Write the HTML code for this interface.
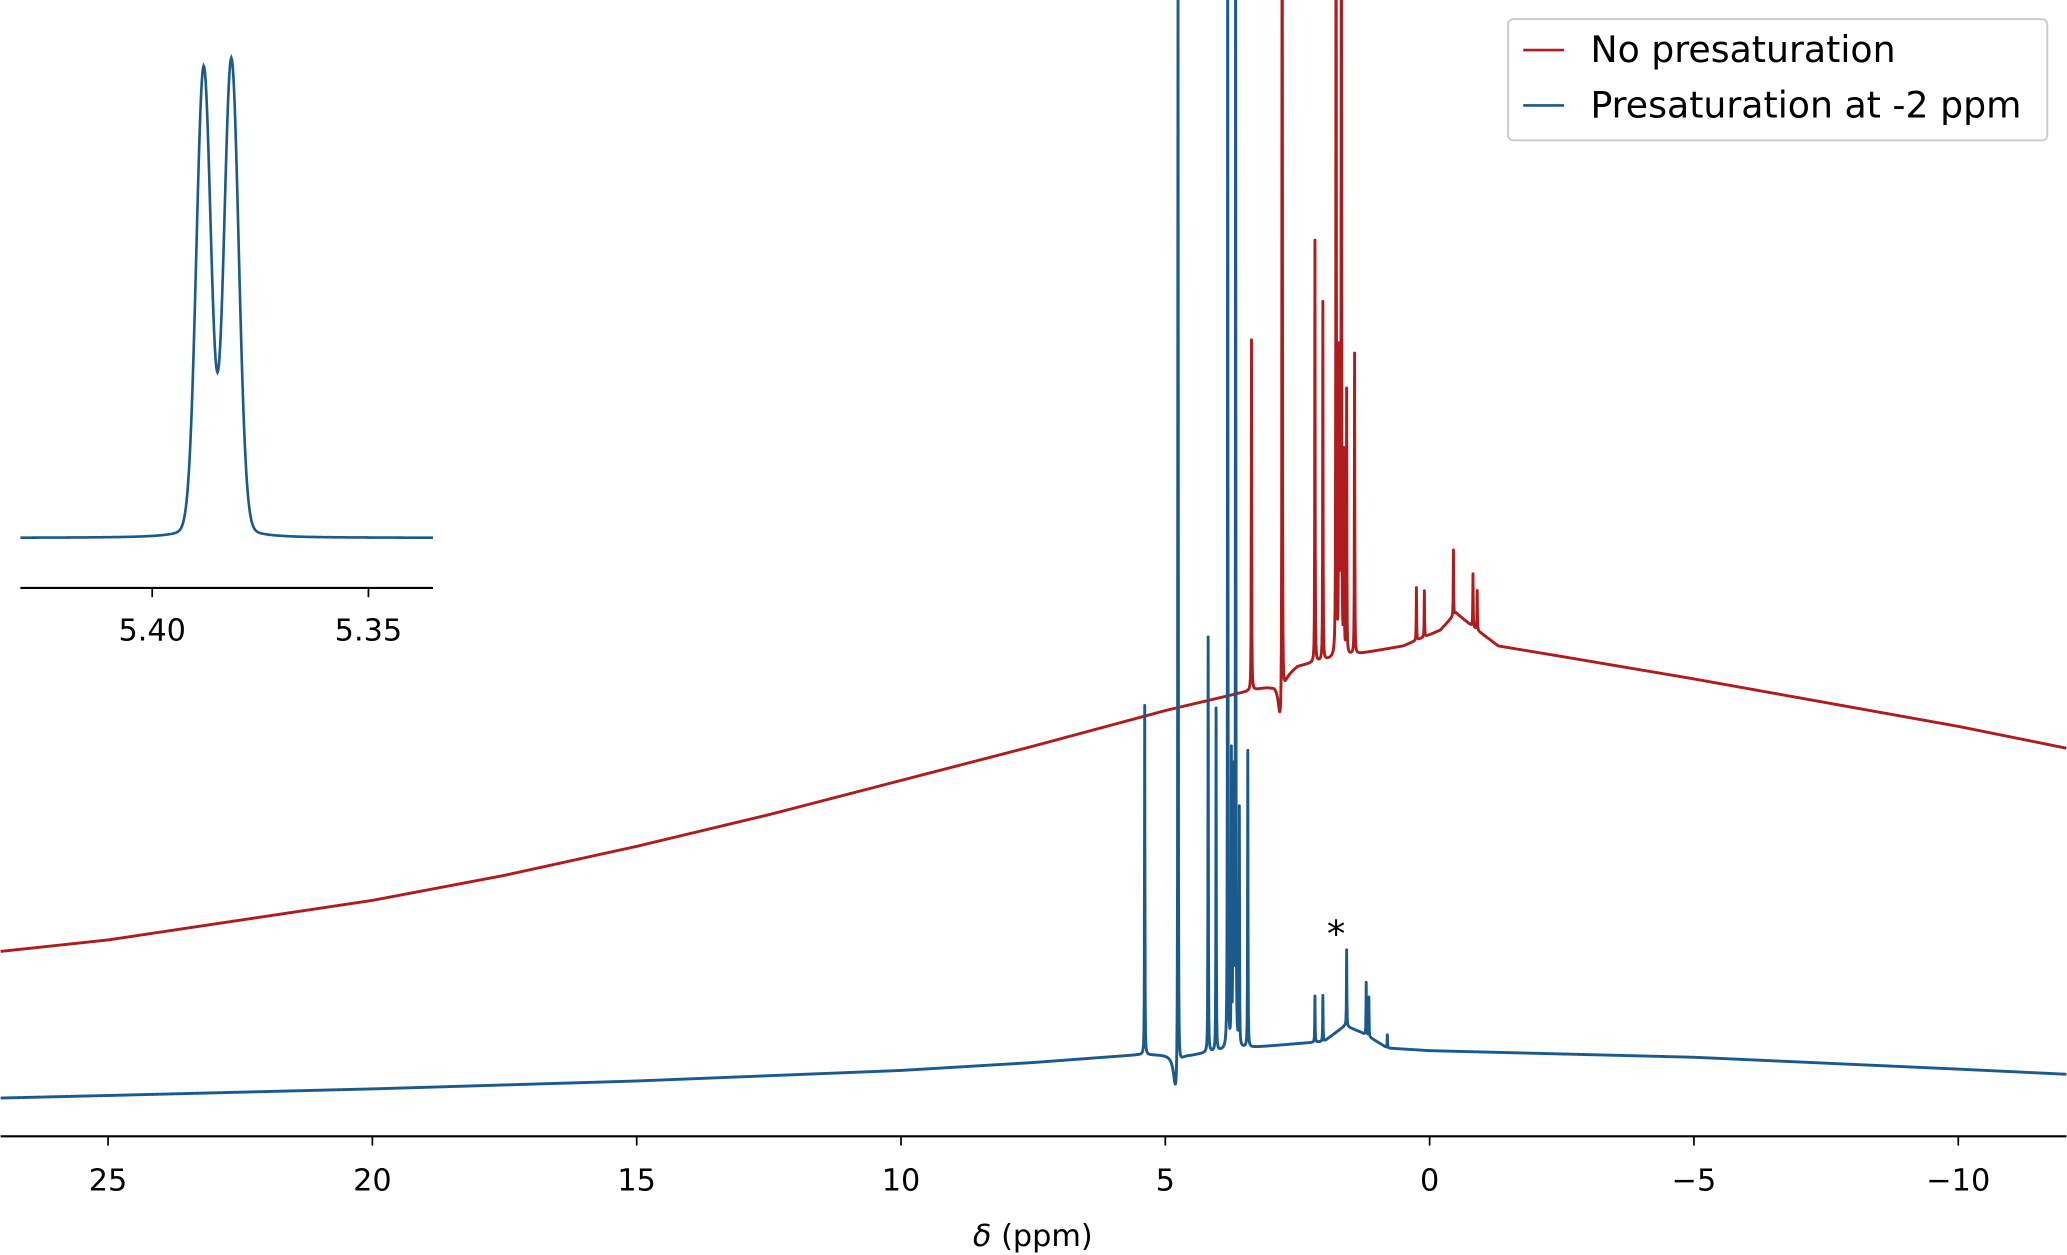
<!DOCTYPE html>
<html><head><meta charset="utf-8"><style>
html,body{margin:0;padding:0;background:#fff}
svg{display:block}
text{font-family:"DejaVu Sans","Liberation Sans",sans-serif;fill:#000}
</style></head><body>
<svg id="chart" width="2067" height="1255" viewBox="0 0 1567 952" xmlns="http://www.w3.org/2000/svg">
<g id="main"></g>
<g id="inset"></g>
<g>
<rect x="1143.5" y="14.5" width="409" height="92" rx="4" fill="#fff" stroke="#ccc" stroke-width="1.5"/>
<line x1="1155" y1="38" x2="1186" y2="38" stroke="#b01c1c" stroke-width="2"/>
<text x="1206" y="47" font-size="27.5">No presaturation</text>
<line x1="1155" y1="80" x2="1186" y2="80" stroke="#1a5a8c" stroke-width="2"/>
<text x="1206" y="89" font-size="27.5">Presaturation at -2 ppm</text>
</g>
<text x="1013" y="718" font-size="28" text-anchor="middle">*</text>
<text x="783" y="945" font-size="23" text-anchor="middle"><tspan font-style="italic">δ</tspan> (ppm)</text>
</svg>
<script>
const xTicks=[25,20,15,10,5,0,-5,-10];
const xTickLabels=["25","20","15","10","5","0","\u22125","\u221210"];
const redBaseP=[27.1,25,20,17.5,15,12.5,10,7.5,5,3,2.5,1.5,0.5,-0.2,-0.5,-0.9,-1.3,-2.5,-5,-7.5,-10,-12.1];
const redBaseY=[722,713,683,664,642,618,592,566,539,520,505,497,490,478,465,478,490,498,515,533,551,568];
const redPeakP=[3.37,2.79,2.82,2.17,2.02,1.77,1.67,1.72,1.7,1.62,1.57,1.42,0.25,0.1,-0.45,-0.82,-0.9];
const redPeakH=[266,900,-35,320,272,900,900,220,180,150,200,228,40,35,50,40,30];
const bluBaseP=[27.1,25,20,15,10,7.5,5.5,5,4.5,3.5,2,1.6,1.3,1,0.8,0,-5,-10,-12.1];
const bluBaseY=[833,831,826,820,812,806,800,800,800,795,790,778,783,790,795,797,802,811,815];
const bluPeakP=[5.39,4.76,4.8,4.19,4.04,3.82,3.67,3.75,3.72,3.7,3.6,3.44,2.17,2.02,1.57,1.2,1.15,0.8];
const bluPeakH=[265,1000,-30,315,260,1000,1000,220,200,160,180,225,35,35,58,40,30,10];
const insetTicks=[5.40,5.35];
const insetTickLabels=["5.40","5.35"];
const insetPeakP=[5.3881,5.3817];
const insetPeakH=[345,351];

const NS="http://www.w3.org/2000/svg";
function X(p){return 1084-40.1*p;}
function interp(ps,ys,p){if(p>=ps[0])return ys[0];for(let i=0;i<ps.length-1;i++){if(p<=ps[i]&&p>=ps[i+1]){const t=(ps[i]-p)/(ps[i]-ps[i+1]);return ys[i]+t*(ys[i+1]-ys[i]);}}return ys[ys.length-1];}
function mk(tag,attrs,parent){const e=document.createElementNS(NS,tag);for(const k in attrs)e.setAttribute(k,attrs[k]);parent.appendChild(e);return e;}
const main=document.getElementById('main');
function spectrum(bp,by,pp,ph,color,name){
  let ps=[];for(let x=0;x<=1567;x+=0.25)ps.push((1084-x)/40.1);
  pp.forEach(p=>{ps.push(p,p+0.003,p-0.003);});ps.sort((a,b)=>b-a);
  let d="";
  ps.forEach((p,i)=>{let y=interp(bp,by,p);pp.forEach((c,j)=>{const w=ph[j]<0?0.05:0.004;y-=ph[j]/(1+((p-c)/w)**2);});y=Math.max(y,-5);d+=(i?"L":"M")+X(p).toFixed(2)+" "+y.toFixed(2);});
  const el=mk('path',{d:d,fill:"none",stroke:color,"stroke-width":2.2,"stroke-linejoin":"round"},main);
  
  
}
spectrum(redBaseP,redBaseY,redPeakP,redPeakH,"#b01c1c","no-presaturation-line");
spectrum(bluBaseP,bluBaseY,bluPeakP,bluPeakH,"#1a5a8c","presaturation-line");
const ax=mk('line',{x1:0,y1:862,x2:1567,y2:862,stroke:"#000","stroke-width":1.6},main);


xTicks.forEach((t,i)=>{
  const tk=mk('line',{x1:X(t),y1:862,x2:X(t),y2:869,stroke:"#000","stroke-width":1.3},main);
  
  
  const tl=mk('text',{x:X(t),y:903,"font-size":23,"text-anchor":"middle"},main);
  tl.textContent=xTickLabels[i];
  
  
});
const inset=document.getElementById('inset');
function IX(p){return 115+(5.40-p)*3280;}
let d="";let first=true;
for(let x=15;x<=328;x+=0.5){const p=5.40-(x-115)/3280;let y=408;insetPeakP.forEach((c,j)=>{y-=insetPeakH[j]*Math.exp(-((p-c)**2)/(2*0.00168**2));y-=10/(1+((p-c)/0.004)**2);});d+=(first?"M":"L")+x+" "+y.toFixed(2);first=false;}
const ip=mk('path',{d:d,fill:"none",stroke:"#1a5a8c","stroke-width":2},inset);


const iax=mk('line',{x1:15,y1:446,x2:328,y2:446,stroke:"#000","stroke-width":1.6},inset);


insetTicks.forEach((t,i)=>{
  const tk=mk('line',{x1:IX(t),y1:446,x2:IX(t),y2:453,stroke:"#000","stroke-width":1.3},inset);
  
  
  const tl=mk('text',{x:IX(t),y:486,"font-size":23,"text-anchor":"middle"},inset);
  tl.textContent=insetTickLabels[i];
  
  
});
</script>
</body></html>
